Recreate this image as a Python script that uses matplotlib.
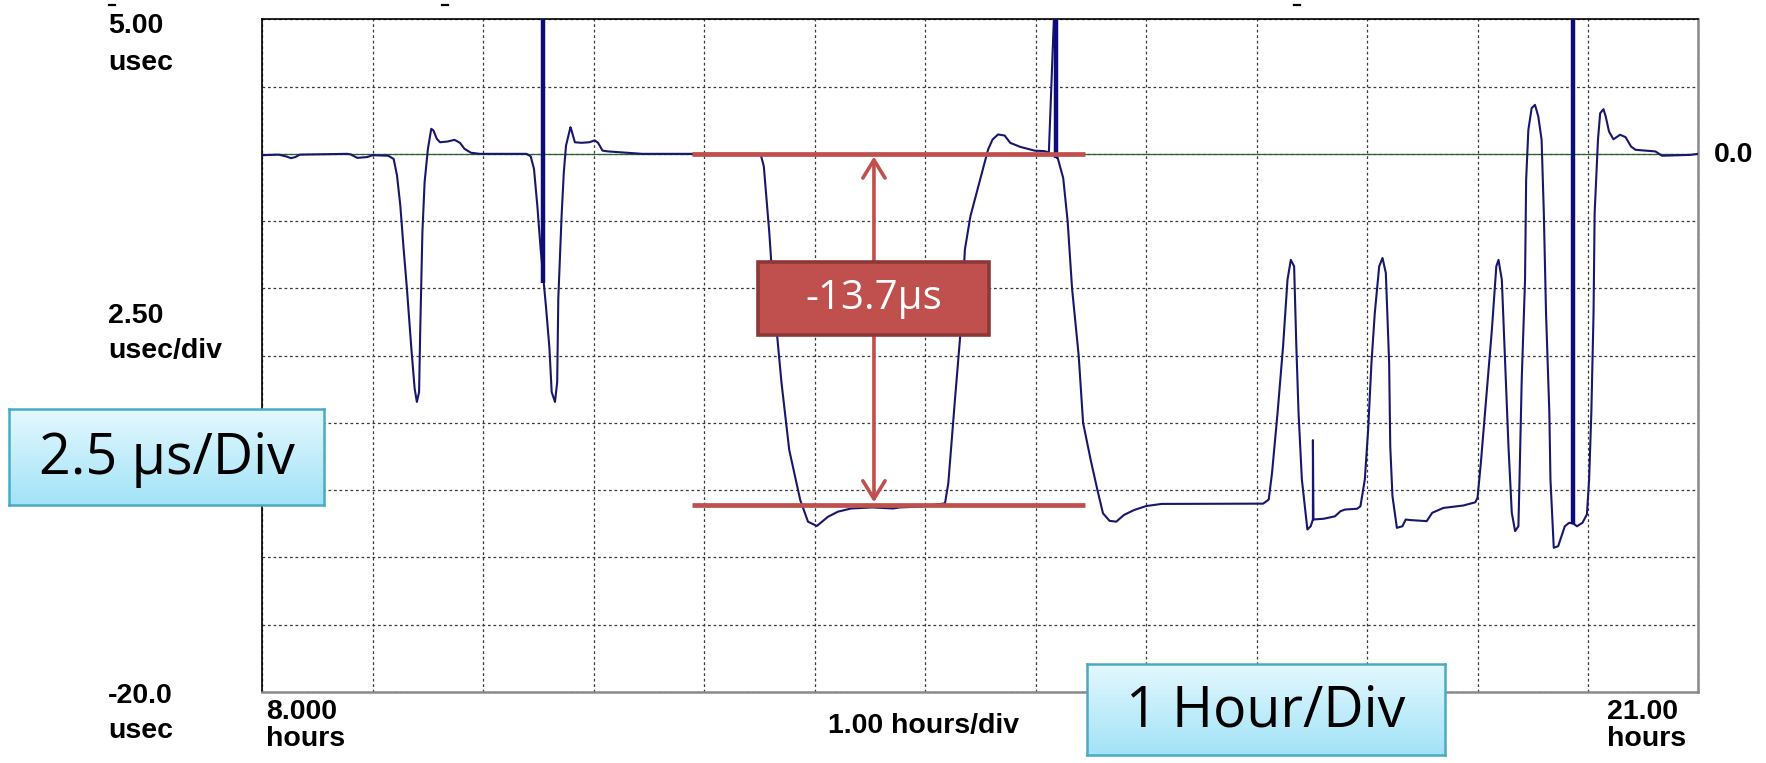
import numpy as np
import matplotlib

matplotlib.use("Agg")
import matplotlib.pyplot as plt
from matplotlib.colors import LinearSegmentedColormap
from matplotlib.patches import Rectangle
from matplotlib.lines import Line2D

W, H = 1766, 763

# time-error trace: hours since start of day vs offset in usec
trace_hours = [
    8.00, 8.15, 8.22, 8.26, 8.30, 8.34, 8.77, 8.80, 8.86, 8.95, 9.00, 9.14, 9.19,
    9.22, 9.25, 9.28, 9.31, 9.35, 9.38, 9.40, 9.42, 9.43, 9.45, 9.47, 9.50, 9.53,
    9.55, 9.58, 9.61, 9.68, 9.74, 9.79, 9.83, 9.89, 9.97, 10.39, 10.43, 10.46,
    10.49, 10.52, 10.57, 10.60, 10.62, 10.65, 10.67, 10.68, 10.71, 10.73, 10.75,
    10.79, 10.80, 10.83, 10.89, 10.96, 11.01, 11.04, 11.08, 11.13, 11.23, 11.44,
    12.51, 12.54, 12.59, 12.63, 12.70, 12.77, 12.87, 12.94, 13.02, 13.05, 13.12,
    13.21, 13.33, 13.52, 13.71, 13.77, 13.96, 14.18, 14.21, 14.27, 14.32, 14.36,
    14.41, 14.49, 14.57, 14.61, 14.66, 14.72, 14.77, 14.86, 14.99, 15.08, 15.12,
    15.17, 15.19, 15.20, 15.25, 15.29, 15.33, 15.39, 15.43, 15.50, 15.56, 15.61,
    15.67, 15.73, 15.80, 15.89, 16.00, 16.14, 17.06, 17.11, 17.14, 17.19, 17.24,
    17.28, 17.31, 17.34, 17.36, 17.38, 17.41, 17.46, 17.49, 17.51, 17.51, 17.515,
    17.61, 17.71, 17.76, 17.80, 17.91, 17.94, 17.98, 18.01, 18.04, 18.07, 18.11,
    18.14, 18.17, 18.20, 18.21, 18.23, 18.27, 18.32, 18.35, 18.39, 18.54, 18.59,
    18.69, 18.87, 18.98, 19.00, 19.03, 19.08, 19.13, 19.17, 19.19, 19.22, 19.25,
    19.28, 19.31, 19.34, 19.37, 19.38, 19.40, 19.43, 19.44, 19.46, 19.49, 19.52,
    19.55, 19.58, 19.60, 19.62, 19.65, 19.66, 19.69, 19.73, 19.76, 19.79, 19.83,
    19.87, 19.90, 19.95, 19.99, 20.01, 20.03, 20.05, 20.06, 20.09, 20.11, 20.14,
    20.16, 20.19, 20.23, 20.29, 20.34, 20.39, 20.43, 20.61, 20.67, 20.92, 21.00,
]
trace_usec = [
    -0.05, -0.03, -0.10, -0.16, -0.12, -0.03, 0.00, -0.02, -0.15, -0.12, -0.05,
    -0.07, -0.19, -0.80, -1.92, -3.53, -5.01, -7.24, -8.73, -9.22, -8.85, -6.62,
    -2.91, -1.05, 0.19, 0.93, 0.87, 0.56, 0.43, 0.46, 0.52, 0.41, 0.19, 0.04, 0.00,
    0.00, -0.09, -0.56, -1.92, -3.53, -5.75, -7.24, -8.85, -9.22, -8.48, -5.38,
    -2.29, -0.68, 0.31, 0.99, 0.87, 0.43, 0.41, 0.43, 0.50, 0.41, 0.12, 0.09, 0.06,
    0.00, 0.00, -0.46, -2.94, -5.40, -8.50, -11.00, -12.87, -13.67, -13.83, -13.73,
    -13.49, -13.30, -13.18, -13.14, -13.18, -13.14, -13.11, -12.99, -12.24, -9.14,
    -6.66, -3.56, -2.32, -1.08, 0.16, 0.53, 0.72, 0.68, 0.41, 0.26, 0.12, 0.10,
    0.05, 5.50, -0.15, -0.15, -0.90, -2.50, -5.00, -7.50, -10.00, -11.40, -12.50,
    -13.36, -13.64, -13.67, -13.42, -13.24, -13.09, -13.01, -13.00, -12.85, -11.86,
    -9.63, -7.15, -4.68, -3.94, -4.18, -7.15, -9.63, -12.10, -13.96, -13.84, -13.59,
    -10.64, -13.59, -13.56, -13.47, -13.28, -13.22, -13.19, -13.10, -12.10, -10.25,
    -7.77, -5.92, -4.18, -3.87, -4.43, -7.77, -10.87, -12.72, -13.90, -13.84,
    -13.59, -13.61, -13.65, -13.34, -13.16, -13.07, -12.95, -12.78, -11.49, -9.01,
    -6.53, -4.18, -3.94, -4.68, -7.77, -10.87, -13.34, -14.02, -13.84, -12.10, -8.39,
    -4.68, -0.97, 0.89, 1.70, 1.82, 1.39, 0.52, -2.20, -5.92, -9.63, -12.10, -14.64,
    -14.58, -14.21, -13.84, -13.71, -13.75, -13.84, -13.71, -13.40, -12.10, -9.63,
    -5.92, -2.20, 0.52, 1.51, 1.66, 1.39, 0.83, 0.54, 0.71, 0.62, 0.27, 0.15, 0.09,
    -0.07, -0.04, 0.00,
]

# off-scale glitches (drawn thick, run past the top of the screen)
spike_hours = [10.54, 15.185, 19.86]
spike_low = [-4.8, -0.15, -13.75]

# measured step
step_start, step_end = 0.0, -13.05
step_label = "-13.7µs"

x_min, x_max, x_div = 8.0, 21.0, 1.0
y_min, y_max, y_div = -20.0, 5.0, 2.5

left_labels = [("5.00", "usec"), ("2.50", "usec/div"), ("-20.0", "usec")]
bottom_labels = [("8.000", "hours"), ("21.00", "hours")]
x_div_label = "1.00 hours/div"
ref_label = "0.0"
y_callout = "2.5 µs/Div"
x_callout = "1 Hour/Div"


def fx(px):
    return px / W


def fy(py):
    return 1 - py / H


fig = plt.figure(figsize=(W / 100, H / 100), dpi=100)
ax = fig.add_axes([fx(262.2), fy(692), fx(1698.5 - 262.2), (692 - 19.3) / H])
ax.set_xlim(x_min, x_max)
ax.set_ylim(y_min, y_max)
ax.set_xticks(np.arange(x_min, x_max + 0.01, x_div))
ax.set_yticks(np.arange(y_min, y_max + 0.01, y_div))
ax.tick_params(length=0, labelbottom=False, labelleft=False)
ax.grid(color="#3a3a3a", ls=(0, (2.2, 2.2)), lw=0.9)
for side in ("top", "left"):
    ax.spines[side].set_color("black")
    ax.spines[side].set_linewidth(1.2)
for side in ("bottom", "right"):
    ax.spines[side].set_color("#8a8a8a")
    ax.spines[side].set_linewidth(1.8)

ax.axhline(0, color="#2f5f2f", lw=0.9, zorder=2)
ax.plot(trace_hours, trace_usec, color="#17176b", lw=1.5, zorder=3)
ax.vlines(spike_hours, spike_low, y_max + 1, color="#0c0c7a", lw=3.2, zorder=4)

# red measurement overlay
red = "#C0504D"
ax.hlines([step_start, step_end], 11.894, 15.45, color=red, lw=3.4, zorder=5)
ax.annotate(
    "", xy=(13.537, step_start - 0.1), xytext=(13.537, step_end + 0.1),
    arrowprops=dict(arrowstyle="<->,head_length=1.3,head_width=0.8", color=red,
                    lw=2.6, shrinkA=0, shrinkB=0),
    zorder=6,
)
ax.add_patch(Rectangle((12.49, -6.72), 2.09, 2.69, facecolor=red,
                       edgecolor="#8C3836", lw=2.6, zorder=7))
ax.text(13.535, -5.38, step_label, color="white", fontsize=29, family="Open Sans",
        ha="center", va="center", zorder=8)

# scope axis labels
lab = dict(family="Liberation Sans", fontsize=20.5, fontweight="bold", color="black")
for (num, unit), (b1, b2) in zip(left_labels, [(33, 70), (323, 358), (703, 738)]):
    fig.text(fx(108), fy(b1), num, va="baseline", **lab)
    fig.text(fx(108), fy(b2), unit, va="baseline", **lab)
for (num, unit), x0 in zip(bottom_labels, [266, 1607]):
    fig.text(fx(x0), fy(719), num, va="baseline", **lab)
    fig.text(fx(x0), fy(746), unit, va="baseline", **lab)
fig.text(fx(828), fy(733), x_div_label, va="baseline", **lab)
fig.text(fx(1714), fy(155), ref_label, va="center", **lab)

# bits of clipped text along the top edge
for px in (112, 445, 1297):
    fig.add_artist(Line2D([fx(px - 3), fx(px + 3)], [fy(5), fy(5)], color="black", lw=1.6))

# light-blue callouts
cmap = LinearSegmentedColormap.from_list("callout", ["#e4f8fe", "#a2e3f7"])
grad = np.linspace(0, 1, 64).reshape(-1, 1)
for text, (x0, y0, x1, y1) in [(y_callout, (9, 409, 324, 505)),
                               (x_callout, (1087, 664, 1445, 755))]:
    cax = fig.add_axes([fx(x0), fy(y1), fx(x1 - x0), (y1 - y0) / H])
    cax.imshow(grad, aspect="auto", cmap=cmap, extent=(0, 1, 0, 1), origin="upper")
    cax.set_xticks([])
    cax.set_yticks([])
    for s in cax.spines.values():
        s.set_color("#4aaac4")
        s.set_linewidth(1.8)
    cax.text(0.5, 0.47, text, transform=cax.transAxes, ha="center", va="center",
             fontsize=40, family="Open Sans", color="black")

fig.savefig("out.png", dpi=100)
